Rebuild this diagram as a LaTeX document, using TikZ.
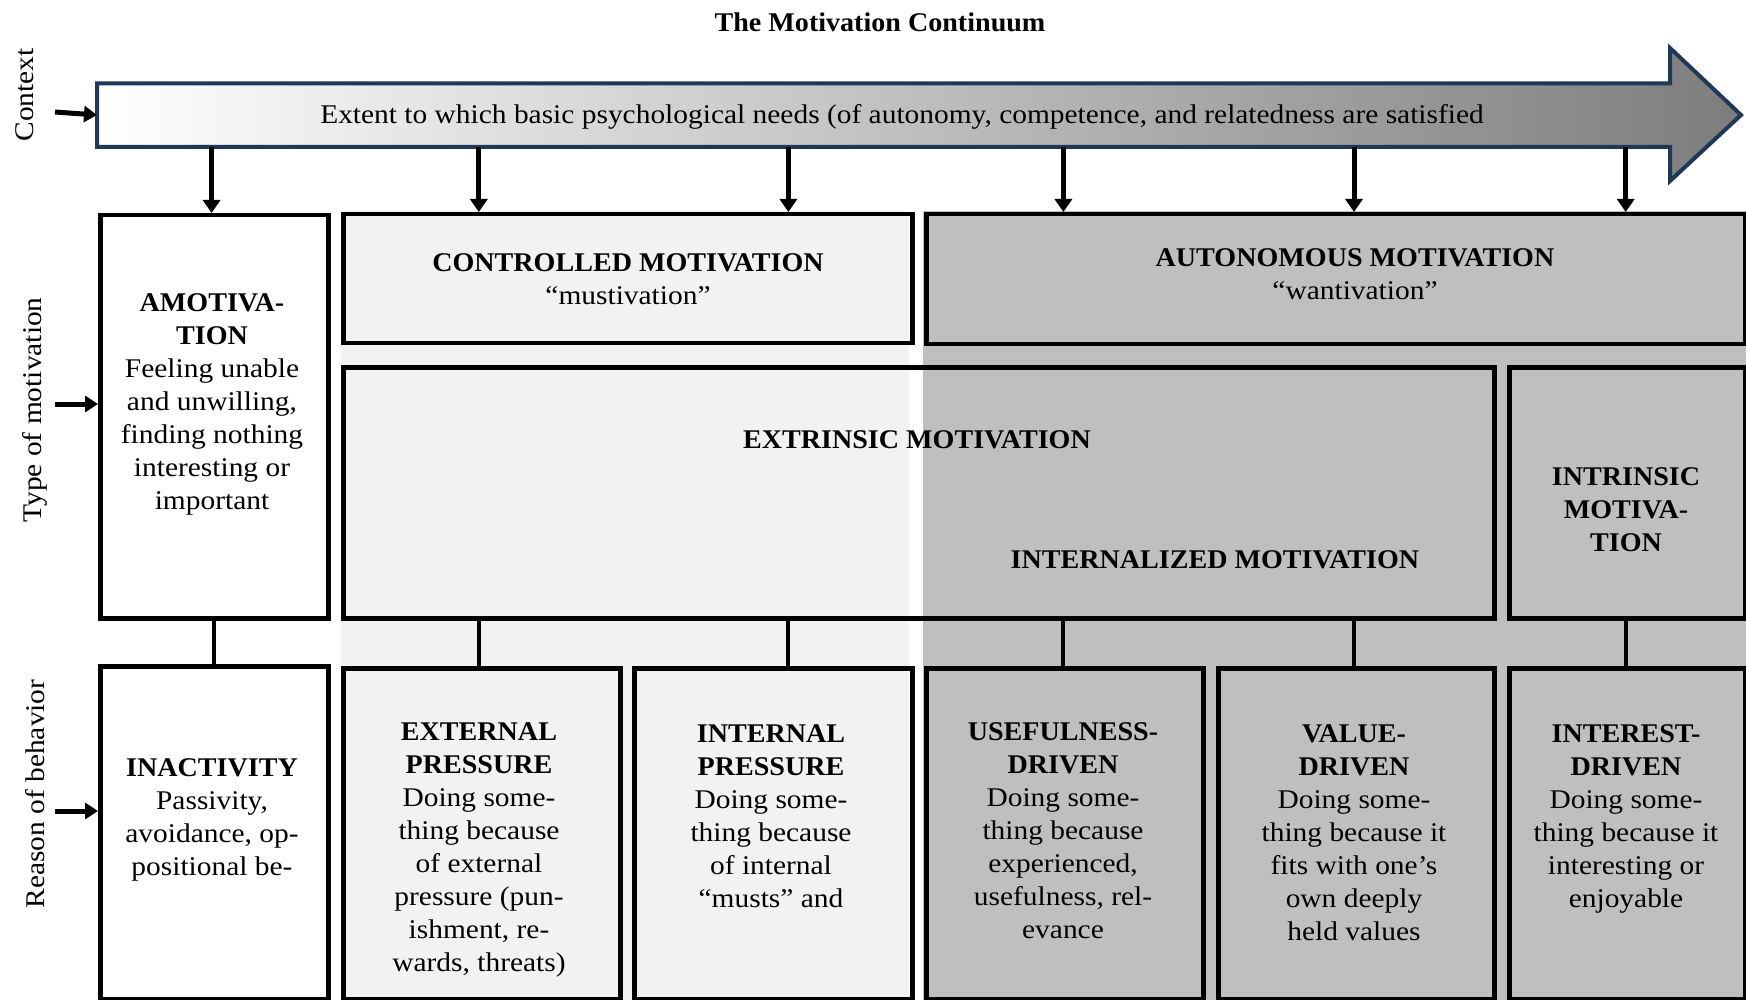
\documentclass[tikz,border=0pt]{standalone}
\usepackage{fontspec}
\setmainfont{Liberation Serif}[FakeStretch=1.09, BoldFeatures={FakeStretch=1.04}]
\usetikzlibrary{arrows.meta,calc}
\definecolor{navy}{RGB}{31,56,86}
\definecolor{lightbg}{RGB}{242,242,242}
\definecolor{darkbg}{RGB}{191,191,191}
\definecolor{tipgray}{RGB}{125,125,125}
\begin{document}
\begin{tikzpicture}[x=1pt,y=-1pt,
  box/.style={draw=black, line width=4.5pt, rectangle, inner sep=0pt, anchor=north west},
  txt/.style={font=\fontsize{27}{33}\selectfont, align=center, inner sep=0pt, anchor=north},
  side/.style={font=\fontsize{27}{30}\selectfont, rotate=90, inner sep=0pt},
  darrow/.style={line width=5pt, -{Triangle[length=13pt,width=17pt]}},
  sarrow/.style={line width=5pt, -{Triangle[length=13pt,width=16pt]}},
  conn/.style={line width=4pt}]
\useasboundingbox (0,0) rectangle (1746,1000);

% column backgrounds
\fill[lightbg] (341,211) rectangle (909,1000);
\fill[darkbg] (923,211) rectangle (1746,1000);

% title
\node[font=\bfseries\fontsize{27}{30}\selectfont, inner sep=0pt] (title) at (880,22) {The Motivation Continuum};

% continuum arrow
\shade[left color=white, right color=tipgray]
  (97,83.5) -- (1670,83.5) -- (1670,48) -- (1741,115) -- (1670,181) -- (1670,147) -- (97,147) -- cycle;
\draw[navy, line width=4pt]
  (97,83.5) -- (1670,83.5) -- (1670,48) -- (1741,115) -- (1670,181) -- (1670,147) -- (97,147) -- cycle;
\node[font=\fontsize{27}{30}\selectfont, inner sep=0pt] (extent) at (902,117)
  {Extent to which basic psychological needs (of autonomy, competence, and relatedness are satisfied};
\coordinate (bodyW) at (97,115);
\foreach \n/\x in {d1/211.6,d2/478.8,d3/788.4,d4/1063.4,d5/1354,d6/1625.7}
  \coordinate (\n) at (\x,147);

% row labels
\node[side] (ctxlab) at (25,95) {Context};
\node[side] (typelab) at (35,410) {Type of motivation};
\node[side] (reaslab) at (35,794) {Reason of behavior};
\coordinate (ctxS) at (55,112);
\coordinate (typeS) at (55,404);
\coordinate (reasS) at (55,811);

% boxes
\node[box, fill=white, minimum width=228pt, minimum height=403pt] (amot) at (98,213) {};
\node[box, minimum width=569pt, minimum height=129pt] (ctrl) at (341,212) {};
\node[box, minimum width=819pt, minimum height=130pt] (auto) at (924,212) {};
\node[box, minimum width=1151pt, minimum height=251pt] (extr) at (341,365) {};
\node[box, minimum width=236pt, minimum height=251pt] (intr) at (1507,365) {};
\node[box, minimum width=228pt, minimum height=333pt] (inact) at (98,664) {};
\node[box, minimum width=277pt, minimum height=331pt] (ext) at (341,666) {};
\node[box, minimum width=278pt, minimum height=331pt] (int) at (632,666) {};
\node[box, minimum width=277pt, minimum height=331pt] (use) at (924,666) {};
\node[box, minimum width=276pt, minimum height=331pt] (val) at (1216,666) {};
\node[box, minimum width=236pt, minimum height=331pt] (ints) at (1507,666) {};

% connectors
\draw[sarrow] (ctxS) -- (bodyW);
\draw[sarrow] (typeS) -- (typeS -| amot.west);
\draw[sarrow] (reasS) -- (reasS -| inact.west);
\draw[darrow] (d1) -- (d1 |- amot.north);
\draw[darrow] (d2) -- (d2 |- ctrl.north);
\draw[darrow] (d3) -- (d3 |- ctrl.north);
\draw[darrow] (d4) -- (d4 |- auto.north);
\draw[darrow] (d5) -- (d5 |- auto.north);
\draw[darrow] (d6) -- (d6 |- auto.north);
\draw[conn] (amot.south) -- (inact.north);
\draw[conn] (d2 |- extr.south) -- (d2 |- ext.north);
\draw[conn] (d3 |- extr.south) -- (d3 |- int.north);
\draw[conn] (d4 |- extr.south) -- (d4 |- use.north);
\draw[conn] (d5 |- extr.south) -- (d5 |- val.north);
\draw[conn] (d6 |- intr.south) -- (d6 |- ints.north);

% box texts
\node[txt] (ctrlT) at (628,253) {\textbf{CONTROLLED MOTIVATION}\\“mustivation”};
\node[txt] (autoT) at (1355,248) {\textbf{AUTONOMOUS MOTIVATION}\\“wantivation”};
\node[txt] (amotT) at (212,293) {\textbf{AMOTIVA-}\\\textbf{TION}\\Feeling unable\\and unwilling,\\finding nothing\\interesting or\\important};
\node[txt] (extrT) at (917,430) {\textbf{EXTRINSIC MOTIVATION}};
\node[txt] (intlT) at (1215,550) {\textbf{INTERNALIZED MOTIVATION}};
\node[txt] (intrT) at (1626,467) {\textbf{INTRINSIC}\\\textbf{MOTIVA-}\\\textbf{TION}};
\node[txt] (inactT) at (212,758) {\textbf{INACTIVITY}\\Passivity,\\avoidance, op-\\positional be-};
\node[txt] (extT) at (479,722) {\textbf{EXTERNAL}\\\textbf{PRESSURE}\\Doing some-\\thing because\\of external\\pressure (pun-\\ishment, re-\\wards, threats)};
\node[txt] (intT) at (771,724) {\textbf{INTERNAL}\\\textbf{PRESSURE}\\Doing some-\\thing because\\of internal\\“musts” and};
\node[txt] (useT) at (1063,722) {\textbf{USEFULNESS-}\\\textbf{DRIVEN}\\Doing some-\\thing because\\experienced,\\usefulness, rel-\\evance};
\node[txt] (valT) at (1354,724) {\textbf{VALUE-}\\\textbf{DRIVEN}\\Doing some-\\thing because it\\fits with one’s\\own deeply\\held values};
\node[txt] (intsT) at (1626,724) {\textbf{INTEREST-}\\\textbf{DRIVEN}\\Doing some-\\thing because it\\interesting or\\enjoyable};
\end{tikzpicture}
\end{document}
